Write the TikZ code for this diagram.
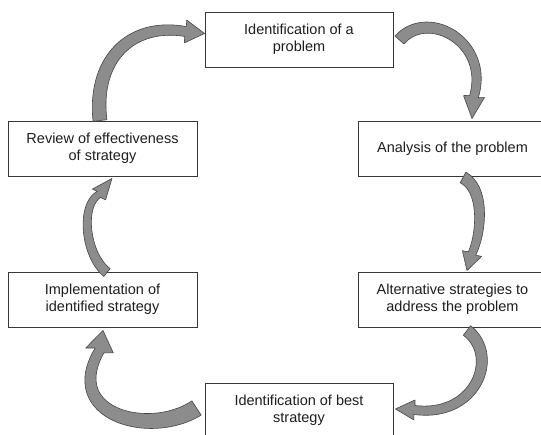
\documentclass[tikz,border=0pt]{standalone}
\usepackage{fontspec}
\setmainfont{Liberation Sans}
\usetikzlibrary{calc}
\definecolor{arrfill}{RGB}{140,140,140}
\definecolor{arrline}{RGB}{70,70,70}
\definecolor{boxline}{RGB}{55,55,55}
\definecolor{txt}{RGB}{30,30,30}

% #1..#4 Bezier body points, #5 tip, #6 tail width, #7 end width, #8 head width
\newcommand\blockarrow[8]{%
  \path (#1); \pgfgetlastxy{\bxa}{\bya}%
  \path (#2); \pgfgetlastxy{\bxb}{\byb}%
  \path (#3); \pgfgetlastxy{\bxc}{\byc}%
  \path (#4); \pgfgetlastxy{\bxd}{\byd}%
  \path (#5); \pgfgetlastxy{\bxt}{\byt}%
  \pgfmathsetmacro\bxa{\bxa}\pgfmathsetmacro\bya{\bya}%
  \pgfmathsetmacro\bxb{\bxb}\pgfmathsetmacro\byb{\byb}%
  \pgfmathsetmacro\bxc{\bxc}\pgfmathsetmacro\byc{\byc}%
  \pgfmathsetmacro\bxd{\bxd}\pgfmathsetmacro\byd{\byd}%
  \pgfmathsetmacro\bxt{\bxt}\pgfmathsetmacro\byt{\byt}%
  \pgfmathsetmacro\hux{\bxt-\bxd}\pgfmathsetmacro\huy{\byt-\byd}%
  \pgfmathsetmacro\hul{veclen(\hux,\huy)}%
  \pgfmathsetmacro\hux{\hux/\hul}\pgfmathsetmacro\huy{\huy/\hul}%
  \pgfmathsetmacro\hpx{\bxd-(#8)/2*\huy}\pgfmathsetmacro\hpy{\byd+(#8)/2*\hux}%
  \pgfmathsetmacro\hqx{\bxd+(#8)/2*\huy}\pgfmathsetmacro\hqy{\byd-(#8)/2*\hux}%
  \begin{scope}[x=1pt,y=1pt,declare function={
      qbx(\s)=(1-\s)*(1-\s)*(1-\s)*(\bxa)+3*(1-\s)*(1-\s)*\s*(\bxb)+3*(1-\s)*\s*\s*(\bxc)+\s*\s*\s*(\bxd);
      qby(\s)=(1-\s)*(1-\s)*(1-\s)*(\bya)+3*(1-\s)*(1-\s)*\s*(\byb)+3*(1-\s)*\s*\s*(\byc)+\s*\s*\s*(\byd);
      qdx(\s)=3*(1-\s)*(1-\s)*(\bxb-\bxa)+6*(1-\s)*\s*(\bxc-\bxb)+3*\s*\s*(\bxd-\bxc);
      qdy(\s)=3*(1-\s)*(1-\s)*(\byb-\bya)+6*(1-\s)*\s*(\byc-\byb)+3*\s*\s*(\byd-\byc);
      qnn(\s)=veclen(qdx(\s),qdy(\s));
      qww(\s)=((#6)+((#7)-(#6))*\s)/2;}]
    \filldraw[blockarr]
      plot[domain=0:1,samples=40,variable=\t]
        ({qbx(\t)-qww(\t)*qdy(\t)/qnn(\t)},{qby(\t)+qww(\t)*qdx(\t)/qnn(\t)})
      -- (\hpx,\hpy) -- (\bxt,\byt) -- (\hqx,\hqy)
      -- plot[domain=0:1,samples=40,variable=\t]
        ({qbx(1-\t)+qww(1-\t)*qdy(1-\t)/qnn(1-\t)},{qby(1-\t)-qww(1-\t)*qdx(1-\t)/qnn(1-\t)})
      -- cycle;
  \end{scope}%
}

\tikzset{
  box/.style={draw=boxline, line width=0.9pt, fill=white, minimum width=189pt,
    minimum height=55pt, inner sep=2pt, align=center, text=txt,
    font=\fontsize{14.5}{17}\selectfont},
  blockarr/.style={fill=arrfill, draw=arrline, line width=0.6pt, line join=round}
}

\begin{document}
\begin{tikzpicture}[x=1pt,y=-1pt]
  \useasboundingbox (0,0) rectangle (541,435);
  \clip (0,0) rectangle (541,435);
  \fill[white] (0,0) rectangle (541,435);

  \node[box, minimum width=188pt] (top) at (299,39.5) {Identification of a\\problem};
  \node[box] (analysis) at (452.5,148.5) {Analysis of the problem};
  \node[box] (alt) at (452.5,299.5) {Alternative strategies to\\address the problem};
  \node[box, minimum width=188pt] (best) at (299,410.5) {Identification of best\\strategy};
  \node[box] (impl) at (102.5,299.5) {Implementation of\\identified strategy};
  \node[box] (review) at (102.5,148.5) {Review of effectiveness\\of strategy};

  % arrow A: top -> analysis
  \coordinate (A0) at ($(top.east)+(6,0.5)$);
  \coordinate (A1) at (428,8);
  \coordinate (A2) at (490,42);
  \coordinate (A3) at ($(analysis.north)+(21.5,-24)$);
  \coordinate (At) at ($(analysis.north)+(19.5,-2)$);
  \blockarrow{A0}{A1}{A2}{A3}{At}{12}{9}{21}

  % arrow B: analysis -> alternative
  \coordinate (B0) at ($(analysis.south)+(10.5,1)$);
  \coordinate (B1) at (486,190);
  \coordinate (B2) at (481,235);
  \coordinate (B3) at ($(alt.north)+(19.5,-18)$);
  \coordinate (Bt) at ($(alt.north)+(14.5,-1)$);
  \blockarrow{B0}{B1}{B2}{B3}{Bt}{12}{8}{20}

  % arrow C: alternative -> best
  \coordinate (C0) at ($(alt.south)+(14.5,3)$);
  \coordinate (C1) at (500,356);
  \coordinate (C2) at (476,418);
  \coordinate (C3) at ($(best.east)+(21,-0.5)$);
  \coordinate (Ct) at ($(best.east)+(2,-1.5)$);
  \blockarrow{C0}{C1}{C2}{C3}{Ct}{12}{9}{20}

  % arrow D: best -> implementation
  \coordinate (D0) at ($(best.west)+(-8,-2.5)$);
  \coordinate (D1) at (150,438);
  \coordinate (D2) at (62,415);
  \coordinate (D3) at ($(impl.south)+(-3,23)$);
  \coordinate (Dt) at ($(impl.south)+(0.5,3)$);
  \blockarrow{D0}{D1}{D2}{D3}{Dt}{17}{10}{28}

  % arrow E: implementation -> review
  \coordinate (E0) at ($(impl.north)+(4.5,1)$);
  \coordinate (E1) at (85,255);
  \coordinate (E2) at (80,205);
  \coordinate (E3) at ($(review.south)+(-3.5,18)$);
  \coordinate (Et) at ($(review.south)+(9.5,2)$);
  \blockarrow{E0}{E1}{E2}{E3}{Et}{10}{7}{17}

  % arrow F: review -> top
  \coordinate (F0) at ($(review.north)+(-2.5,0)$);
  \coordinate (F1) at (93,60);
  \coordinate (F2) at (130,22);
  \coordinate (F3) at ($(top.west)+(-19,-8)$);
  \coordinate (Ft) at ($(top.west)+(0,-6)$);
  \blockarrow{F0}{F1}{F2}{F3}{Ft}{14}{10}{23}
\end{tikzpicture}
\end{document}
